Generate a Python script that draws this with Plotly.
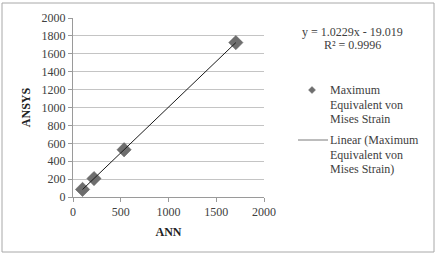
import numpy as np
import plotly.graph_objects as go

ann = [100, 220, 535, 1705]
ansys = [85, 206, 528, 1725]
x_ticks = [0, 500, 1000, 1500, 2000]
y_ticks = [0, 200, 400, 600, 800, 1000, 1200, 1400, 1600, 1800, 2000]
series_lines = ["Maximum", "Equivalent von", "Mises Strain"]
trend_lines = ["Linear (Maximum", "Equivalent von", "Mises Strain)"]
equation = "y = 1.0229x - 19.019"
r2_text = "R² = 0.9996"

slope, intercept = np.polyfit(ann, ansys, 1)
tx = np.array([min(ann), max(ann)])
ty = slope * tx + intercept

font = "Liberation Serif"
txt = "#404040"

fig = go.Figure()
fig.add_trace(go.Scatter(x=ann, y=ansys, mode="markers", name=" ".join(series_lines),
                         showlegend=False,
                         marker=dict(symbol="diamond", size=11, color="#6e6e6e",
                                     line=dict(color="#5a5a5a", width=0.5))))
fig.add_trace(go.Scatter(x=tx, y=ty, mode="lines", name=" ".join(trend_lines),
                         showlegend=False,
                         line=dict(color="#1a1a1a", width=1)))

L, R, T, B = 73, 176, 18, 61
W, H = 440, 258
pw, ph = W - L - R, H - T - B

def px(x):
    return (x - L) / pw

def py(y):
    return (H - B - y) / ph

annotations = [
    dict(text=equation, xref="paper", yref="paper", x=px(352), y=py(32),
         showarrow=False, xanchor="center", yanchor="middle",
         font=dict(family=font, size=12, color=txt)),
    dict(text=r2_text, xref="paper", yref="paper", x=px(352), y=py(45),
         showarrow=False, xanchor="center", yanchor="middle",
         font=dict(family=font, size=12, color=txt)),
]
line_h = 14.7
for start, lines in ((90, series_lines), (140, trend_lines)):
    for i, s in enumerate(lines):
        annotations.append(dict(text=s, xref="paper", yref="paper",
                                x=px(328), y=py(start + i * line_h),
                                showarrow=False, xanchor="left", yanchor="middle",
                                font=dict(family=font, size=12, color=txt)))

d = 3.5
shapes = [
    dict(type="rect", xref="paper", yref="paper",
         x0=px(2), x1=px(434), y0=py(252), y1=py(3),
         line=dict(color="#a8a8a8", width=1), fillcolor="rgba(0,0,0,0)",
         layer="below"),
    dict(type="path", xref="paper", yref="paper",
         path=f"M {px(312 - d)} {py(90)} L {px(312)} {py(90 - d)} L {px(312 + d)} {py(90)} L {px(312)} {py(90 + d)} Z",
         line=dict(color="#6e6e6e", width=0.5), fillcolor="#6e6e6e"),
    dict(type="line", xref="paper", yref="paper",
         x0=px(298), x1=px(328), y0=py(140), y1=py(140),
         line=dict(color="#7a7a7a", width=1)),
]

fig.update_layout(
    width=W, height=H,
    margin=dict(l=L, r=R, t=T, b=B),
    paper_bgcolor="white", plot_bgcolor="white",
    font=dict(family=font, size=12, color=txt),
    showlegend=False,
    xaxis=dict(range=[0, 2000], tickvals=x_ticks, showgrid=False,
               showline=True, linecolor="#9a9a9a", linewidth=1,
               ticks="outside", ticklen=4, tickcolor="#9a9a9a",
               zeroline=False,
               title=dict(text="<b>ANN</b>", font=dict(family=font, size=12, color="#222"),
                          standoff=9),
               tickfont=dict(family=font, size=12, color=txt)),
    yaxis=dict(range=[0, 2000], tickvals=y_ticks, showgrid=True,
               gridcolor="#c4c4c4", gridwidth=1,
               showline=True, linecolor="#9a9a9a", linewidth=1,
               ticks="outside", ticklen=4, tickcolor="#9a9a9a",
               zeroline=False,
               title=dict(text="<b>ANSYS</b>", font=dict(family=font, size=12, color="#222"),
                          standoff=8),
               tickfont=dict(family=font, size=12, color=txt)),
    shapes=shapes,
    annotations=annotations,
)

fig.write_html("out.html")
